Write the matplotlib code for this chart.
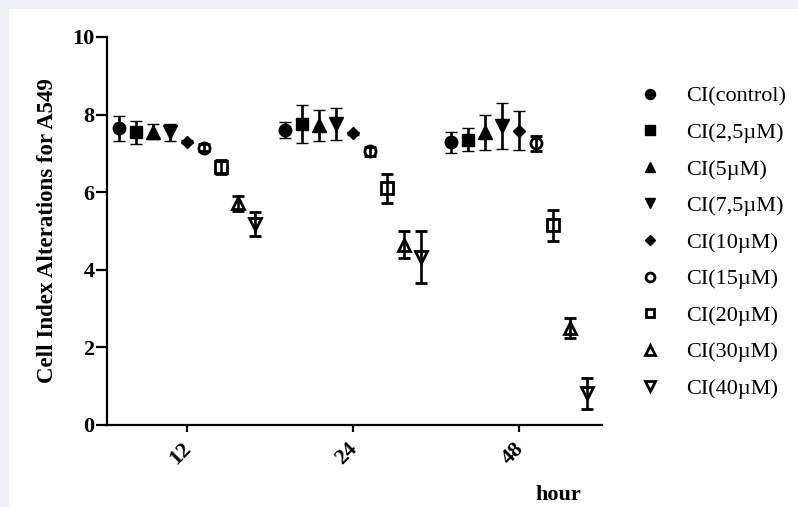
import matplotlib
matplotlib.use("Agg")
import matplotlib.pyplot as plt
from matplotlib.lines import Line2D
from matplotlib.patches import Rectangle
import matplotlib.transforms as mtransforms
import numpy as np

plt.rcParams['font.family'] = ['Liberation Serif', 'DejaVu Serif']

categories = ['12', '24', '48']
series_names = ['CI(control)', 'CI(2,5µM)', 'CI(5µM)', 'CI(7,5µM)', 'CI(10µM)',
                'CI(15µM)', 'CI(20µM)', 'CI(30µM)', 'CI(40µM)']

ci_control = [7.65, 7.60, 7.29]
ci_2_5 = [7.54, 7.76, 7.35]
ci_5 = [7.56, 7.72, 7.54]
ci_7_5 = [7.54, 7.76, 7.71]
ci_10 = [7.30, 7.52, 7.59]
ci_15 = [7.15, 7.05, 7.26]
ci_20 = [6.66, 6.10, 5.15]
ci_30 = [5.71, 4.65, 2.50]
ci_40 = [5.18, 4.33, 0.82]

err_control = [0.32, 0.20, 0.27]
err_2_5 = [0.30, 0.50, 0.30]
err_5 = [0.20, 0.40, 0.45]
err_7_5 = [0.22, 0.42, 0.60]
err_10 = [0.04, 0.04, 0.50]
err_15 = [0.08, 0.12, 0.20]
err_20 = [0.18, 0.38, 0.40]
err_30 = [0.20, 0.35, 0.25]
err_40 = [0.30, 0.67, 0.40]

values = [ci_control, ci_2_5, ci_5, ci_7_5, ci_10, ci_15, ci_20, ci_30, ci_40]
errors = [err_control, err_2_5, err_5, err_7_5, err_10, err_15, err_20, err_30, err_40]

# marker styles: (marker, size, filled)
styles = [('o', 9, True), ('s', 8.5, True), ('^', 9.5, True), ('v', 9.5, True),
          ('D', 6, True), ('o', 8, False), ('s', 8, False), ('^', 8.5, False), ('v', 8.5, False)]

fig = plt.figure(figsize=(7.98, 5.07), dpi=100)
fig.patch.set_facecolor('#f0f1f7')
fig.patches.append(Rectangle((9 / 798, 0), 1, 1 - 9 / 507, transform=fig.transFigure,
                             facecolor='white', edgecolor='none', zorder=-10))

ax = fig.add_axes([107 / 798, 1 - 425 / 507, (602 - 107) / 798, (425 - 37) / 507])
ax.set_facecolor('none')

x = np.arange(len(categories))
step = 0.1024
for k, (vals, errs, (mk, ms, filled)) in enumerate(zip(values, errors, styles)):
    xs = x + (k - 4) * step
    ax.errorbar(xs, vals, yerr=errs, fmt=mk, color='black', ms=ms,
                mfc='black' if filled else 'none', mec='black',
                mew=1.0 if filled else 2.0,
                elinewidth=1.9, capsize=4, capthick=1.9, zorder=3)

ax.set_xlim(-0.48, 2.5)
ax.set_ylim(0, 10)
ax.set_yticks([0, 2, 4, 6, 8, 10])
ax.set_xticks(x)
ax.set_xticklabels(categories, rotation=45, ha='center', va='top')
for s in ['top', 'right']:
    ax.spines[s].set_visible(False)
for s in ['left', 'bottom']:
    ax.spines[s].set_linewidth(1.6)
ax.tick_params(axis='y', length=8, width=1.6, pad=1, labelsize=16)
ax.tick_params(axis='x', length=5, width=1.6, pad=5, labelsize=16)
shift = mtransforms.ScaledTranslation(-6 / 100, 0, fig.dpi_scale_trans)
for lab in ax.get_xticklabels():
    lab.set_fontweight('bold')
    lab.set_transform(lab.get_transform() + shift)
for lab in ax.get_yticklabels():
    lab.set_fontweight('bold')

ax.set_ylabel('Cell Index Alterations for A549', fontsize=16.5, fontweight='bold', labelpad=10)
ax.set_xlabel('hour', fontsize=16, fontweight='bold')
ax.xaxis.set_label_coords(0.911, -0.155)

handles = []
for (mk, ms, filled) in styles:
    handles.append(Line2D([], [], linestyle='none', marker=mk, color='black',
                          ms=ms * 0.8, mfc='black' if filled else 'none', mec='black',
                          mew=1.0 if filled else 2.0))
fig.legend(handles, series_names, loc='upper left', bbox_to_anchor=(639 / 798, 1 - 86 / 507),
           frameon=False, fontsize=16, handlelength=1.0, handletextpad=1.12,
           labelspacing=0.72, borderpad=0, borderaxespad=0)

fig.savefig('out.png', dpi=100, facecolor=fig.get_facecolor())
